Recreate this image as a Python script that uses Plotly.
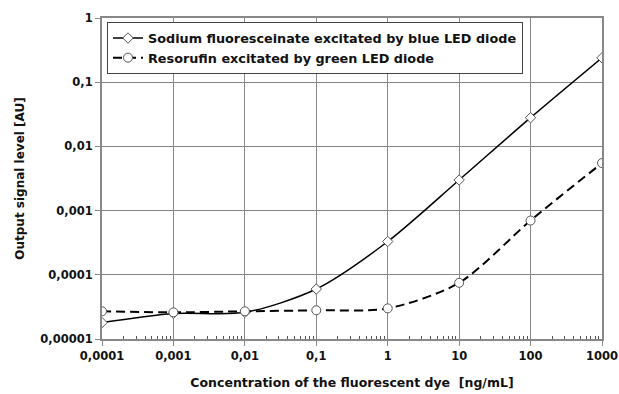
import plotly.graph_objects as go

concentration = [0.0001, 0.001, 0.01, 0.1, 1, 10, 100, 1000]
fluorescein = [1.8e-5, 2.5e-5, 2.6e-5, 6.0e-5, 3.3e-4, 3.0e-3, 2.8e-2, 0.24]
resorufin = [2.7e-5, 2.6e-5, 2.7e-5, 2.8e-5, 3.0e-5, 7.5e-5, 7.0e-4, 5.5e-3]

x_tickvals = [0.0001, 0.001, 0.01, 0.1, 1, 10, 100, 1000]
x_ticktext = ["0,0001", "0,001", "0,01", "0,1", "1", "10", "100", "1000"]
y_tickvals = [1e-5, 1e-4, 1e-3, 1e-2, 1e-1, 1]
y_ticktext = ["0,00001", "0,0001", "0,001", "0,01", "0,1", "1"]

minor_x = [m * 10 ** e for e in range(-4, 3) for m in range(2, 10)]

font = "DejaVu Sans, Verdana, sans-serif"

fig = go.Figure()
fig.add_trace(go.Scatter(
    x=concentration, y=fluorescein, mode="lines+markers",
    name="Sodium fluoresceinate excitated by blue LED diode",
    line=dict(color="black", width=1.5, shape="spline", smoothing=0.8),
    marker=dict(symbol="diamond", size=8, color="white",
                line=dict(color="#555555", width=1)),
))
fig.add_trace(go.Scatter(
    x=concentration, y=resorufin, mode="lines+markers",
    name="Resorufin excitated by green LED diode",
    line=dict(color="black", width=2, dash="9px,5px", shape="spline", smoothing=0.8),
    marker=dict(symbol="circle", size=9, color="white",
                line=dict(color="#555555", width=1)),
))

fig.update_layout(
    width=619, height=394,
    margin=dict(l=102, r=17, t=18, b=55),
    paper_bgcolor="white", plot_bgcolor="white",
    font=dict(family=font, size=12, color="black"),
    showlegend=True,
    legend=dict(
        x=0.01, y=0.987, xanchor="left", yanchor="top",
        bgcolor="white", bordercolor="#444444", borderwidth=1,
        font=dict(family=font, size=12.8, color="#111111", weight="bold"),
        tracegroupgap=0, itemwidth=30,
    ),
)
fig.update_xaxes(
    type="log", range=[-4, 3], automargin=False,
    tickvals=x_tickvals, ticktext=x_ticktext,
    tickfont=dict(family=font, size=11.5, weight="bold", color="#111111"),
    showgrid=True, gridcolor="#888888", gridwidth=1,
    showline=True, linecolor="#888888", linewidth=2, mirror=True,
    ticks="outside", ticklen=5, tickcolor="#888888",
    minor=dict(tickvals=minor_x, ticks="inside", ticklen=3,
               tickcolor="#555555", showgrid=False),
    title=dict(text="Concentration of the fluorescent dye  [ng/mL]",
               font=dict(family=font, size=12.5, weight="bold", color="#111111"),
               standoff=16),
    zeroline=False,
)
fig.update_yaxes(
    type="log", range=[-5, 0], automargin=False,
    tickvals=y_tickvals, ticktext=y_ticktext,
    tickfont=dict(family=font, size=11.5, weight="bold", color="#111111"),
    showgrid=True, gridcolor="#888888", gridwidth=1,
    showline=True, linecolor="#888888", linewidth=2, mirror=True,
    ticks="outside", ticklen=5, tickcolor="#888888",
    title=dict(text="Output signal level [AU]",
               font=dict(family=font, size=12, weight="bold", color="#111111"),
               standoff=13),
    zeroline=False,
)

fig.write_html("out.html")
